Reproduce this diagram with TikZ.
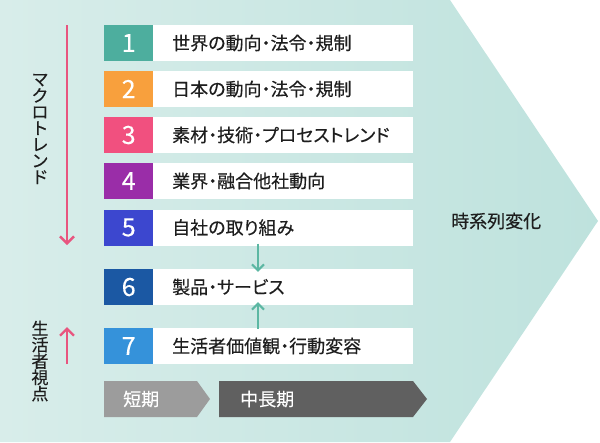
\documentclass[tikz,border=0pt]{standalone}
\usepackage{fontspec}
\setmainfont{Noto Sans CJK JP}[RawFeature=+palt, FakeBold=0.3]
\newfontfamily\plainjp{Noto Sans CJK JP}[FakeBold=0.3]
\usetikzlibrary{arrows.meta}
\definecolor{bgL}{HTML}{D8EDEA}
\definecolor{bgR}{HTML}{BEE2DD}
\definecolor{cA}{HTML}{4DAE9E}
\definecolor{cB}{HTML}{F8A03D}
\definecolor{cC}{HTML}{F1507F}
\definecolor{cD}{HTML}{9A2DA8}
\definecolor{cE}{HTML}{3C47CF}
\definecolor{cF}{HTML}{1B58A3}
\definecolor{cG}{HTML}{3592DA}
\definecolor{pinkarrow}{HTML}{E8557F}
\definecolor{tealarrow}{HTML}{5CB7A3}
\definecolor{txt}{HTML}{1E1E1E}
\definecolor{shortc}{HTML}{9C9C9C}
\definecolor{longc}{HTML}{606060}
\tikzset{
  numbox/.style={fill=#1, text=white, minimum width=49pt, minimum height=36pt, inner sep=0pt, font=\fontsize{25}{25}\selectfont, anchor=west},
  txtbox/.style={fill=white, text=txt, text width=222pt, inner xsep=19pt, inner ysep=0pt, minimum height=36pt, align=left, font=\fontsize{18}{18}\selectfont, anchor=west},
  vlabel/.style={text=txt, align=center, font=\plainjp\fontsize{17}{16.3}\selectfont, inner sep=0pt},
  pinkarr/.style={draw=pinkarrow, line width=2.4pt, -{Straight Barb[length=7pt,width=14pt,line width=2.4pt]}},
  tealarr/.style={draw=tealarrow, line width=2pt, -{Straight Barb[length=6pt,width=12pt,line width=2pt]}},
  phase/.style={text=white, font=\fontsize{18}{18}\selectfont, anchor=west, inner sep=0pt}
}
\begin{document}
\begin{tikzpicture}[x=1pt,y=-1pt]
\useasboundingbox (0,0) rectangle (600,442);
\shade[left color=bgL, right color=bgR] (0,0) -- (450,0) -- (598,221) -- (450,442) -- (0,442) -- cycle;
% rows
\foreach \n/\c/\y/\t in {1/cA/43/世界の動向・法令・規制, 2/cB/89/日本の動向・法令・規制, 3/cC/135/素材・技術・プロセストレンド, 4/cD/181/業界・融合他社動向, 5/cE/227.5/自社の取り組み, 6/cF/287/製品・サービス, 7/cG/346/生活者価値観・行動変容}{
  \node[numbox=\c] (n\n) at (104,\y) {\n};
  \node[txtbox] (t\n) at (153,\y) {\t};
}
% left arrows and labels
\coordinate (pt) at (67,25);
\coordinate (pb) at (67,245);
\draw[pinkarr] (pt) -- (pb);
\coordinate (ub) at (67,364);
\coordinate (ut) at (67,327);
\draw[pinkarr] (ub) -- (ut);
\node[vlabel] (macro) at (40,129) {マ\\ク\\ロ\\ト\\レ\\ン\\ド};
\node[vlabel] (seikatsu) at (40,361) {生\\活\\者\\視\\点};
% teal arrows
\draw[tealarr] ([xshift=105pt,yshift=2pt]t5.south west) -- ([xshift=105pt,yshift=-3pt]t6.north west);
\draw[tealarr] ([xshift=105pt,yshift=-1pt]t7.north west) -- ([xshift=105pt,yshift=3pt]t6.south west);
% timeline
\fill[shortc] (104,381) -- (197,381) -- (210,399) -- (197,417) -- (104,417) -- cycle;
\fill[longc] (219,381) -- (413,381) -- (427,399) -- (413,417) -- (219,417) -- cycle;
\node[phase] (short) at (123,399) {短期};
\node[phase] (long) at (240,399) {中長期};
\node[text=txt, font=\fontsize{18}{18}\selectfont, anchor=west, inner sep=0pt] (ts) at (451,221) {時系列変化};
\end{tikzpicture}
\end{document}
